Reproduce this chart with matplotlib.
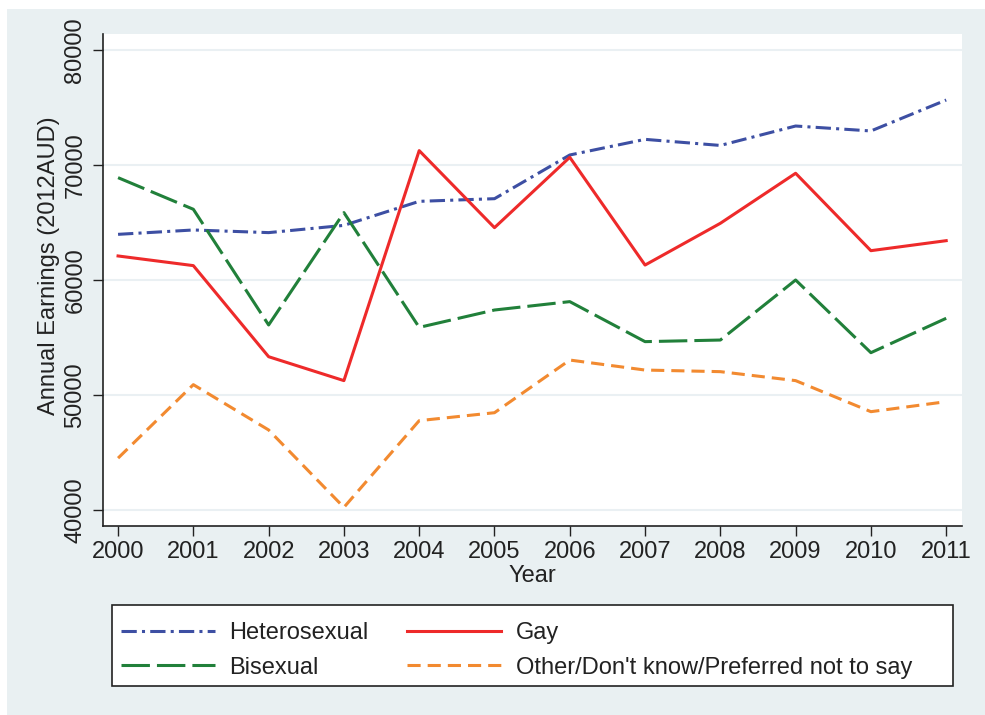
import matplotlib
matplotlib.use("Agg")
import matplotlib.pyplot as plt
from matplotlib.patches import Rectangle

plt.rcParams['font.family'] = ['Liberation Sans', 'DejaVu Sans']

# ========== data ==========
years = [2000, 2001, 2002, 2003, 2004, 2005, 2006, 2007, 2008, 2009, 2010, 2011]
hetero = [63970, 64350, 64120, 64750, 66840, 67070, 70870, 72230, 71700, 73390, 72960, 75650]
gay = [62090, 61250, 53330, 51250, 71250, 64550, 70670, 61300, 64930, 69280, 62550, 63420]
bisexual = [68900, 66150, 56090, 65860, 55880, 57390, 58120, 54640, 54780, 60000, 53680, 56670]
other = [44510, 50900, 46960, 40230, 47770, 48460, 53040, 52170, 52030, 51250, 48550, 49420]

y_ticks = [40000, 50000, 60000, 70000, 80000]

bg = '#E9F0F2'
W, H = 985, 715

fig = plt.figure(figsize=(W / 100, H / 100), dpi=100, facecolor='white')
# light outer panel (Stata style)
fig.patches.append(Rectangle((7 / W, 0), (W - 7) / W, (H - 9) / H,
                             transform=fig.transFigure, facecolor=bg,
                             edgecolor='none', zorder=-10))

ax = fig.add_axes([103 / W, (H - 526) / H, (962 - 103) / W, (526 - 34) / H])
ax.set_facecolor('white')

lw = 2.2
l_het, = ax.plot(years, hetero, color='#3D4FA3', lw=lw, dashes=(5, 1.7, 1, 1.7), label='Heterosexual')
l_gay, = ax.plot(years, gay, color='#EE2A2A', lw=lw, label='Gay')
l_bi, = ax.plot(years, bisexual, color='#21803A', lw=lw, dashes=(9.3, 2.3), label='Bisexual')
l_oth, = ax.plot(years, other, color='#F28A30', lw=lw, dashes=(4.3, 2.3),
                 label="Other/Don't know/Preferred not to say")

ax.set_xlim(1999.8, 2011.21)
ax.set_ylim(38609, 81391)
ax.set_xticks(years)
ax.set_yticks(y_ticks)
ax.set_yticklabels([str(v) for v in y_ticks], rotation=90, va='center')
ax.grid(axis='y', color='#EAF0F3', lw=1.5)
ax.set_axisbelow(True)

for s in ['top', 'right']:
    ax.spines[s].set_visible(False)
for s in ['left', 'bottom']:
    ax.spines[s].set_color('#222222')
    ax.spines[s].set_linewidth(1.2)

ax.tick_params(axis='both', direction='out', length=7, width=1, color='#222222',
               labelsize=17, labelcolor='#222222')
ax.tick_params(axis='y', pad=5)
ax.tick_params(axis='x', pad=4)

ax.set_xlabel('Year', fontsize=17, color='#222222')
ax.set_ylabel('Annual Earnings (2012AUD)', fontsize=17, color='#222222')
ax.xaxis.set_label_coords(0.5, -0.080)
ax.yaxis.set_label_coords(-0.050, 0.530)

# ========== legend ==========
fig.patches.append(Rectangle((111.6 / W, (H - 686) / H), (952.6 - 111.6) / W, (686 - 605) / H,
                             transform=fig.transFigure, facecolor='white',
                             edgecolor='#222222', lw=1.2, zorder=1))
# legend fills column by column, so order gives rows: Hetero | Gay, Bisexual | Other
leg = fig.legend([l_het, l_bi, l_gay, l_oth],
                 [l_het.get_label(), l_bi.get_label(), l_gay.get_label(), l_oth.get_label()],
                 loc='upper left', bbox_to_anchor=(111.6 / W, 1 - 613 / H),
                 ncol=2, frameon=False, fontsize=17, handlelength=3.98,
                 handletextpad=0.6, columnspacing=1.65, labelspacing=0.52,
                 borderaxespad=0)
for t in leg.get_texts():
    t.set_color('#222222')

fig.savefig('out.png', dpi=100, facecolor='white')
